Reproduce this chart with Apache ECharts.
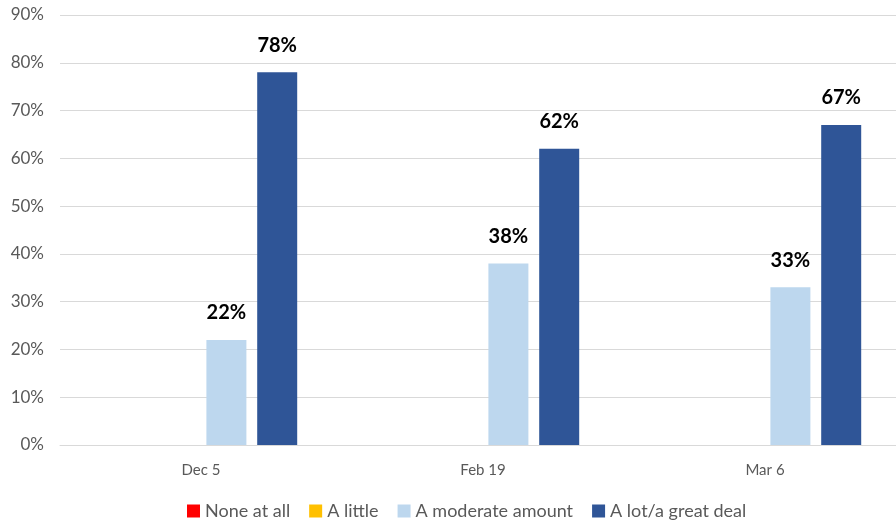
<!DOCTYPE html>
<html>
<head>
<meta charset="utf-8">
<script src="https://cdn.jsdelivr.net/npm/echarts@6/dist/echarts.min.js"></script>
<style>
  html, body { margin: 0; padding: 0; background: #fff; overflow: hidden; }
  #chart { width: 910px; height: 523px; }
</style>
</head>
<body>
<div id="chart"></div>
<script>
// Survey waves and response shares (percent)
const categories = ['Dec 5', 'Feb 19', 'Mar 6'];
const seriesNames = ['None at all', 'A little', 'A moderate amount', 'A lot/a great deal'];
const noneAtAll = [null, null, null];
const aLittle = [null, null, null];
const moderate = [22, 38, 33];
const aLot = [78, 62, 67];
const yTicks = [0, 10, 20, 30, 40, 50, 60, 70, 80, 90];

const colors = ['#FF0000', '#FFC000', '#BDD7EE', '#2F5597'];
const values = [noneAtAll, aLittle, moderate, aLot];
const fontFamily = 'Lato, "Open Sans", sans-serif';

const chart = echarts.init(document.getElementById('chart'));
chart.setOption({
  animation: false,
  color: colors,
  textStyle: { fontFamily: fontFamily },
  // the plot runs a little past the right edge of the page
  grid: { left: 60, top: 15, width: 846, height: 430 },
  legend: {
    top: 502,
    left: 187,
    padding: 0,
    itemWidth: 13,
    itemHeight: 13,
    itemGap: 19,
    icon: 'rect',
    textStyle: { color: '#595959', fontSize: 18, fontFamily: fontFamily },
    data: seriesNames
  },
  xAxis: {
    type: 'category',
    data: categories,
    axisTick: { show: false },
    axisLine: { lineStyle: { color: '#D9D9D9', width: 1 } },
    axisLabel: { color: '#595959', fontSize: 15, margin: 18 }
  },
  yAxis: {
    type: 'value',
    min: yTicks[0],
    max: yTicks[yTicks.length - 1],
    interval: 10,
    axisLine: { show: false },
    axisTick: { show: false },
    splitLine: { lineStyle: { color: '#D9D9D9', width: 1 } },
    axisLabel: { color: '#595959', fontSize: 17, margin: 16, formatter: '{value}%' }
  },
  series: seriesNames.map((name, i) => ({
    name: name,
    type: 'bar',
    data: values[i],
    barWidth: 40,
    barGap: '27%',
    label: {
      show: true,
      position: 'top',
      distance: 17,
      color: '#000',
      fontWeight: 'bold',
      fontSize: 20,
      formatter: p => (p.value == null ? '' : p.value + '%')
    }
  }))
});
</script>
</body>
</html>
